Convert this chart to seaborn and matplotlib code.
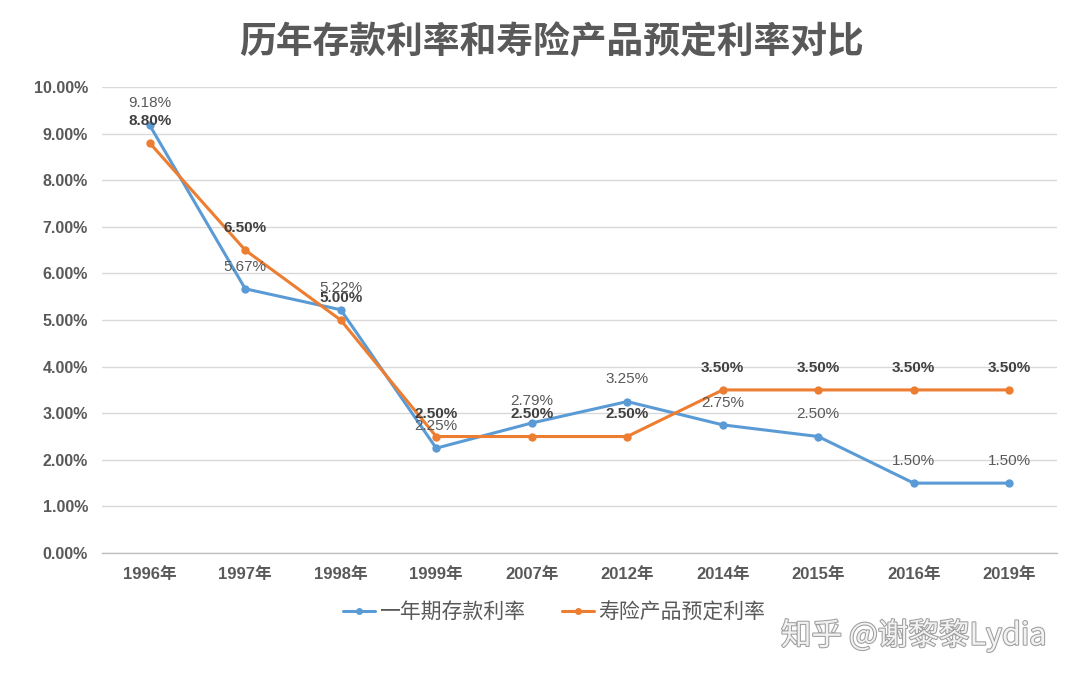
import matplotlib
matplotlib.use("Agg")
import matplotlib.pyplot as plt
import matplotlib.patheffects as pe
from matplotlib.ticker import FixedLocator, FuncFormatter
import numpy as np
import pandas as pd
import seaborn as sns

# ──────────────────────────────────────────────
# Data
# ──────────────────────────────────────────────

years = ["1996年", "1997年", "1998年", "1999年", "2007年",
         "2012年", "2014年", "2015年", "2016年", "2019年"]
deposit_rate = [9.18, 5.67, 5.22, 2.25, 2.79, 3.25, 2.75, 2.50, 1.50, 1.50]
insurance_rate = [8.80, 6.50, 5.00, 2.50, 2.50, 2.50, 3.50, 3.50, 3.50, 3.50]
series_names = ["一年期存款利率", "寿险产品预定利率"]
title = "历年存款利率和寿险产品预定利率对比"
watermark = "知乎 @谢黎黎Lydia"

BLUE = "#5B9BD5"
ORANGE = "#ED7D31"
GRAY = "#595959"

df = pd.DataFrame({
    "year": years * 2,
    "rate": deposit_rate + insurance_rate,
    "series": [series_names[0]] * len(years) + [series_names[1]] * len(years),
})

# ──────────────────────────────────────────────
# Plot
# ──────────────────────────────────────────────

sns.set_theme(style="white")
plt.rcParams["font.family"] = ["Liberation Sans", "Noto Sans CJK SC", "DejaVu Sans"]

fig = plt.figure(figsize=(10.8, 6.83), dpi=100)
ax = fig.add_axes([0.0944, 0.1903, 0.8843, 0.6823])

sns.lineplot(
    data=df, x="year", y="rate", hue="series", sort=False,
    palette=[BLUE, ORANGE], marker="o", markersize=6, markeredgewidth=0,
    linewidth=2.2, ax=ax, legend=False,
)

ax.set_ylim(0, 10)
ax.set_xlim(-0.5, len(years) - 0.5)
ax.yaxis.set_major_locator(FixedLocator(np.arange(0, 10.01, 1)))
ax.yaxis.set_major_formatter(FuncFormatter(lambda v, _: f"{v:.2f}%"))
ax.grid(axis="y", color="#D9D9D9", linewidth=1)
ax.set_axisbelow(True)
for s in ["top", "right", "left"]:
    ax.spines[s].set_visible(False)
ax.spines["bottom"].set_color("#BFBFBF")
ax.spines["bottom"].set_linewidth(1)
ax.set_xlabel("")
ax.set_ylabel("")

ax.tick_params(axis="y", length=0, pad=10, labelsize=11.5, labelcolor=GRAY)
for lbl in ax.get_yticklabels():
    lbl.set_fontweight("bold")
ax.tick_params(axis="x", which="major", length=0, pad=10, labelsize=12, labelcolor=GRAY)
for lbl in ax.get_xticklabels():
    lbl.set_fontweight("bold")
ax.xaxis.set_minor_locator(FixedLocator(np.arange(-0.5, len(years), 1)))
ax.tick_params(axis="x", which="minor", length=5, color="#BFBFBF", width=1)

# data labels (the reference overlaps a couple of them too)
for i, v in enumerate(deposit_rate):
    ax.annotate(f"{v:.2f}%", (i, v), xytext=(0, 16), textcoords="offset points",
                ha="center", va="center", fontsize=11, color=GRAY)
for i, v in enumerate(insurance_rate):
    ax.annotate(f"{v:.2f}%", (i, v), xytext=(0, 16), textcoords="offset points",
                ha="center", va="center", fontsize=11, color="#404040",
                fontweight="bold")

# legend
handles = [
    plt.Line2D([], [], color=BLUE, marker="o", markersize=5, linewidth=2.2, markeredgewidth=0),
    plt.Line2D([], [], color=ORANGE, marker="o", markersize=5, linewidth=2.2, markeredgewidth=0),
]
fig.legend(handles, series_names, loc="center", bbox_to_anchor=(0.513, 0.104),
           ncol=2, frameon=False, fontsize=15, handlelength=1.5,
           handletextpad=0.2, columnspacing=1.8, labelcolor=GRAY)

fig.text(0.511, 0.938, title, ha="center", va="center", fontsize=26.5,
         fontweight="bold", color=GRAY, family=["Noto Sans CJK SC"])

fig.text(0.846, 0.07, watermark, ha="center", va="center", fontsize=22,
         color="#F2F2F2", family=["Noto Sans CJK SC"],
         path_effects=[pe.withStroke(linewidth=1.5, foreground="#9E9E9E")])

fig.savefig("out.png", dpi=100, facecolor="white")
